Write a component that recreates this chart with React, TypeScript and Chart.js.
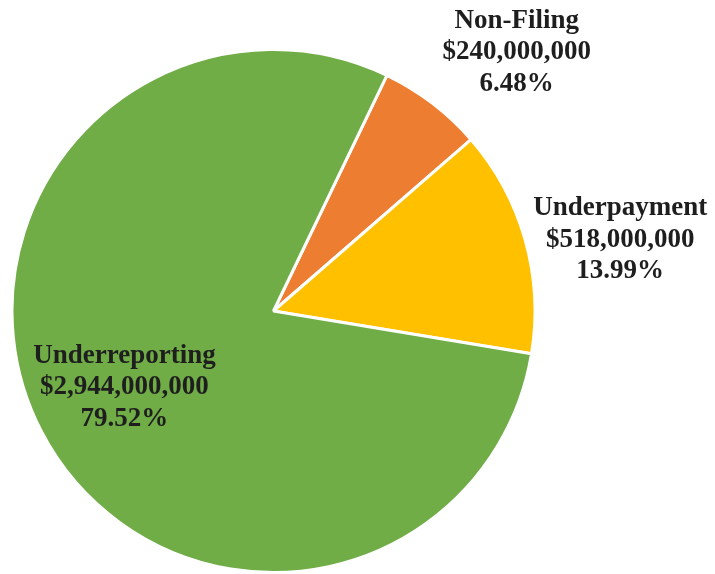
import React, { useEffect, useRef } from "react";
import { Chart, registerables } from "chart.js";

Chart.register(...registerables);

const categories = ["Non-Filing", "Underpayment", "Underreporting"];
const amounts = [240000000, 518000000, 2944000000];
const amountLabels = ["$240,000,000", "$518,000,000", "$2,944,000,000"];
const percentLabels = ["6.48%", "13.99%", "79.52%"];
const colors = ["#ED7D31", "#FFC000", "#70AD47"];

// label anchor offsets relative to pie centre, in units of the outer radius
const labelOffsets = [
  [0.93, -0.99],
  [1.326, -0.272],
  [-0.57, 0.292],
];

const labelPlugin = {
  id: "sliceLabels",
  afterDatasetsDraw(chart: any) {
    const meta = chart.getDatasetMeta(0);
    const ctx = chart.ctx;
    ctx.save();
    ctx.font = "bold 27px 'Liberation Serif', serif";
    ctx.fillStyle = "#1e1e1e";
    ctx.textAlign = "center";
    ctx.textBaseline = "middle";
    meta.data.forEach((arc: any, i: number) => {
      const r = arc.outerRadius;
      const cx = arc.x + labelOffsets[i][0] * r;
      const cy = arc.y + labelOffsets[i][1] * r;
      const lines = [categories[i], amountLabels[i], percentLabels[i]];
      const lh = 31.5;
      lines.forEach((t, k) => {
        ctx.fillText(t, cx, cy + (k - 1) * lh);
      });
    });
    ctx.restore();
  },
};

export default function App() {
  const ref = useRef<HTMLCanvasElement>(null);
  useEffect(() => {
    const chart = new Chart(ref.current!, {
      type: "pie",
      data: {
        labels: categories,
        datasets: [
          {
            data: amounts,
            backgroundColor: colors,
            borderColor: "#ffffff",
            borderWidth: 3,
          },
        ],
      },
      options: {
        responsive: false,
        animation: false,
        rotation: 25.7,
        layout: { padding: { left: 10, right: 178, top: 48, bottom: 0 } },
        plugins: {
          legend: { display: false },
          tooltip: { enabled: false },
        },
      },
      plugins: [labelPlugin],
    });
    return () => chart.destroy();
  }, []);
  return (
    <div style={{ position: "absolute", left: 0, top: 0, width: 715, height: 574, background: "#fff" }}>
      <canvas ref={ref} width={715} height={574} />
    </div>
  );
}
